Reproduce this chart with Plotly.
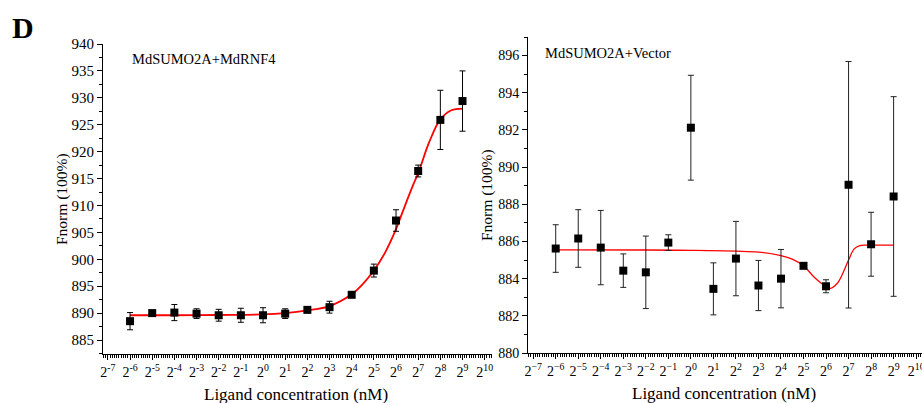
import plotly.graph_objects as go

# ---------------- data ----------------
# ligand concentration expressed as log2(nM)
log2_conc = [-6, -5, -4, -3, -2, -1, 0, 1, 2, 3, 4, 5, 6, 7, 8, 9]

rnf4_fnorm = [888.5, 890.0, 890.1, 889.9, 889.6, 889.6, 889.6, 889.9,
              890.6, 891.1, 893.4, 897.9, 907.2, 916.4, 925.9, 929.4]
rnf4_err = [1.6, 0.3, 1.5, 0.9, 1.1, 1.3, 1.4, 0.9,
            0.4, 1.1, 0.4, 1.2, 2.0, 1.1, 5.5, 5.6]

vec_fnorm = [885.62, 886.16, 885.67, 884.43, 884.34, 885.94, 892.12, 883.45,
             885.08, 883.63, 884.00, 884.69, 883.59, 889.05, 885.85, 888.42]
vec_err = [1.28, 1.55, 2.0, 0.9, 1.95, 0.42, 2.82, 1.4,
           2.0, 1.35, 1.57, 0.1, 0.35, 6.63, 1.72, 5.37]

# fitted curves
rnf4_fit_x = [-6, -4, -2, 0, 1, 2, 3, 4, 4.5, 5, 5.5, 6, 6.25, 6.5, 6.75, 7, 7.5, 8, 8.5, 9]
rnf4_fit_y = [889.6, 889.6, 889.65, 889.75, 890.0, 890.5, 891.3, 893.5, 895.4, 897.9, 901.2,
              905.6, 908.3, 911.0, 913.6, 916.0, 921.8, 926.0, 927.7, 928.0]

vec_fit_x = [-6, -2, 0, 2, 3, 4, 4.5, 5, 5.5, 6, 6.2, 6.5, 6.75, 7, 7.25, 7.5, 7.75, 8, 9]
vec_fit_y = [885.55, 885.54, 885.52, 885.48, 885.43, 885.24, 885.05, 884.69, 884.05, 883.58,
             883.48, 883.75, 884.3, 885.0, 885.6, 885.78, 885.8, 885.8, 885.8]

x_ticks = list(range(-7, 11))
x_ticktext_left = [f"2<sup>{k}</sup>" for k in x_ticks]
x_ticktext_right = [f"2<sup>{str(k).replace('-', '\u2212')}</sup>" for k in x_ticks]

W, H = 922, 403
FONT = "Liberation Serif, Times New Roman, DejaVu Serif, serif"


def px(x):
    return x / W


def py(y):
    return 1 - y / H


fig = go.Figure()

# left panel
fig.add_trace(go.Scatter(x=rnf4_fit_x, y=rnf4_fit_y, mode="lines", line=dict(color="red", width=1.8, shape="spline"),
                         xaxis="x", yaxis="y", showlegend=False, hoverinfo="skip"))
fig.add_trace(go.Scatter(x=log2_conc, y=rnf4_fnorm, mode="markers",
                         marker=dict(symbol="square", size=8, color="black"),
                         error_y=dict(type="data", array=rnf4_err, color="black", thickness=1, width=3),
                         xaxis="x", yaxis="y", showlegend=False))

# right panel
fig.add_trace(go.Scatter(x=vec_fit_x, y=vec_fit_y, mode="lines", line=dict(color="red", width=1.3, shape="spline"),
                         xaxis="x2", yaxis="y2", showlegend=False, hoverinfo="skip"))
fig.add_trace(go.Scatter(x=log2_conc, y=vec_fnorm, mode="markers",
                         marker=dict(symbol="square", size=8, color="black"),
                         error_y=dict(type="data", array=vec_err, color="#222", thickness=1, width=3),
                         xaxis="x2", yaxis="y2", showlegend=False))

axis_common = dict(showgrid=False, zeroline=False, showline=True, linecolor="black", linewidth=1,
                   ticks="outside", ticklen=5, tickcolor="black", tickwidth=1, automargin=False)

fig.update_layout(
    width=W, height=H,
    margin=dict(l=0, r=0, t=0, b=0, autoexpand=False),
    plot_bgcolor="white", paper_bgcolor="white",
    font=dict(family=FONT, color="black"),
    xaxis=dict(domain=[px(103), px(492)], range=[-7.22, 10.33], anchor="y",
               tickmode="array", tickvals=x_ticks, ticktext=x_ticktext_left,
               tickfont=dict(size=14, family=FONT),
               minor=dict(dtick=0.1, ticklen=3, ticks="outside", tickcolor="black"),
               **axis_common),
    yaxis=dict(domain=[py(354), py(44)], range=[882.4, 940], anchor="x",
               tick0=0, dtick=5, tickfont=dict(size=15, family=FONT),
               minor=dict(dtick=2.5, ticklen=3, ticks="outside", tickcolor="black"),
               **axis_common),
    xaxis2=dict(domain=[px(528), 1.0], range=[-7.23, 10.26], anchor="y2",
                tickmode="array", tickvals=x_ticks, ticktext=x_ticktext_right,
                tickfont=dict(size=14, family=FONT), ticklabeloverflow="allow",
                minor=dict(dtick=0.1, ticklen=3, ticks="outside", tickcolor="black"),
                **axis_common),
    yaxis2=dict(domain=[py(353), py(37)], range=[880, 897], anchor="x2",
                tick0=0, dtick=2, tickfont=dict(size=14, family=FONT),
                minor=dict(dtick=1, ticklen=3, ticks="outside", tickcolor="black"),
                **axis_common),
    annotations=[
        dict(text="<b>D</b>", x=px(10), y=py(28), xref="paper", yref="paper", xanchor="left", yanchor="middle",
             showarrow=False, font=dict(size=30, family=FONT)),
        dict(text="MdSUMO2A+MdRNF4", x=px(130), y=py(59), xref="paper", yref="paper", xanchor="left",
             yanchor="middle", showarrow=False, font=dict(size=14.5, family=FONT)),
        dict(text="MdSUMO2A+Vector", x=px(543), y=py(53), xref="paper", yref="paper", xanchor="left",
             yanchor="middle", showarrow=False, font=dict(size=14.5, family=FONT)),
        dict(text="Fnorm (100%)", x=px(62), y=py(199), xref="paper", yref="paper", textangle=-90,
             xanchor="center", yanchor="middle", showarrow=False, font=dict(size=15.5, family=FONT)),
        dict(text="Fnorm (100%)", x=px(487), y=py(195), xref="paper", yref="paper", textangle=-90,
             xanchor="center", yanchor="middle", showarrow=False, font=dict(size=15.5, family=FONT)),
        dict(text="Ligand concentration (nM)", x=px(296), y=py(394), xref="paper", yref="paper",
             xanchor="center", yanchor="middle", showarrow=False, font=dict(size=17, family=FONT)),
        dict(text="Ligand concentration (nM)", x=px(724), y=py(393), xref="paper", yref="paper",
             xanchor="center", yanchor="middle", showarrow=False, font=dict(size=17, family=FONT)),
    ],
)

fig.write_html("out.html")
